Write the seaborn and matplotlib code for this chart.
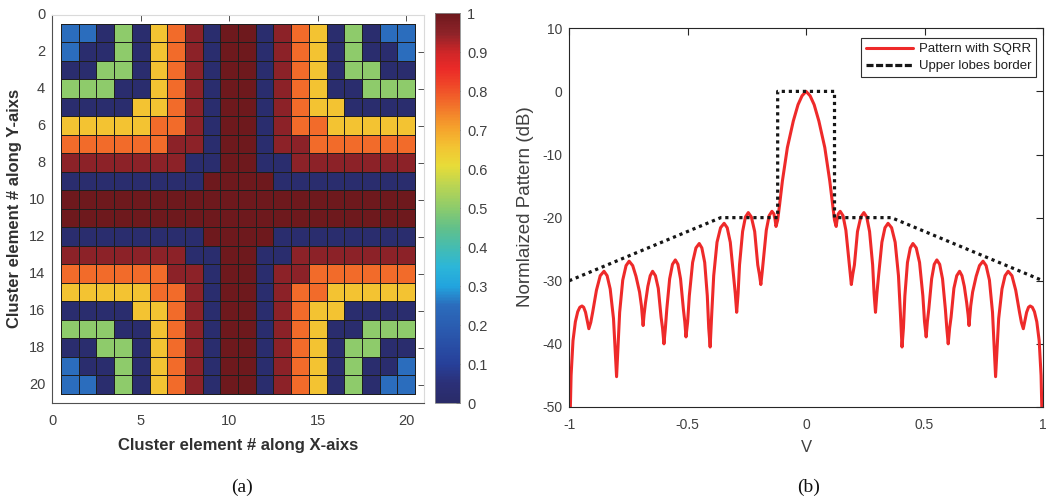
import numpy as np
import pandas as pd
import matplotlib
matplotlib.use("Agg")
import matplotlib.pyplot as plt
from matplotlib.colors import LinearSegmentedColormap
from matplotlib.lines import Line2D
import seaborn as sns

sns.set_style("white")
plt.rcParams['font.family'] = ['Liberation Sans', 'DejaVu Sans']
plt.rcParams['axes.unicode_minus'] = False

# ---------------- (a) cluster amplitude map ----------------
level_codes = ['N', 'B', 'G', 'Y', 'O', 'R', 'D']
level_values = [0.02, 0.25, 0.50, 0.66, 0.77, 0.95, 1.00]

cluster_rows = [
    "BBNGNYORNDDNROYNGNBB",
    "BNNGNYORNDDNROYNGNNB",
    "NNGGNYORNDDNROYNGGNN",
    "GGGNNYORNDDNROYNNGGG",
    "NNNNYYORNDDNROYYNNNN",
    "YYYYYOORNDDNROOYYYYY",
    "OOOOOORRNDDNRROOOOOO",
    "RRRRRRRNNDDNNRRRRRRR",
    "NNNNNNNNDDDDNNNNNNNN",
    "DDDDDDDDDDDDDDDDDDDD",
    "DDDDDDDDDDDDDDDDDDDD",
    "NNNNNNNNDDDDNNNNNNNN",
    "RRRRRRRNNDDNNRRRRRRR",
    "OOOOOORRNDDNRROOOOOO",
    "YYYYYOORNDDNROOYYYYY",
    "NNNNYYORNDDNROYYNNNN",
    "GGGNNYORNDDNROYNNGGG",
    "NNGGNYORNDDNROYNGGNN",
    "BNNGNYORNDDNROYNGNNB",
    "BBNGNYORNDDNROYNGNBB",
]

x_tick_values = [0, 5, 10, 15, 20]
y_tick_values = [0, 2, 4, 6, 8, 10, 12, 14, 16, 18, 20]
cbar_tick_values = [0, 0.1, 0.2, 0.3, 0.4, 0.5, 0.6, 0.7, 0.8, 0.9, 1.0]
cbar_tick_labels = ['0', '0.1', '0.2', '0.3', '0.4', '0.5', '0.6', '0.7', '0.8', '0.9', '1']

cmap_positions = [0.00, 0.05, 0.10, 0.18, 0.25, 0.30, 0.35, 0.40, 0.45, 0.50,
                  0.56, 0.61, 0.66, 0.71, 0.77, 0.82, 0.86, 0.90, 0.95, 1.00]
cmap_colors = ['#2a2b68', '#2b3078', '#27409a', '#2a58ad', '#2b6cbc', '#22a4de',
               '#2cb6d8', '#45bcb0', '#62c08a', '#8ccb6c', '#bcd552', '#e8dc38',
               '#f3c232', '#f5a02c', '#f26d2a', '#ef4428', '#ea2a28', '#d02628',
               '#8e2329', '#6e191d']

# ---------------- (b) normalized pattern ----------------
pattern_v = [
    -1.000, -0.992, -0.984, -0.974, -0.964, -0.955, -0.946, -0.939, -0.931, -0.924,
    -0.917, -0.909, -0.901, -0.885, -0.869, -0.853, -0.840, -0.827, -0.813, -0.806,
    -0.800, -0.794, -0.787, -0.774, -0.760, -0.747, -0.732, -0.718, -0.703, -0.695,
    -0.688, -0.684, -0.678, -0.668, -0.658, -0.648, -0.636, -0.624, -0.612, -0.606,
    -0.600, -0.594, -0.588, -0.576, -0.564, -0.552, -0.541, -0.530, -0.518, -0.512,
    -0.507, -0.500, -0.493, -0.479, -0.465, -0.451, -0.440, -0.428, -0.417, -0.411,
    -0.405, -0.398, -0.390, -0.376, -0.361, -0.346, -0.333, -0.320, -0.306, -0.299,
    -0.293, -0.287, -0.281, -0.268, -0.256, -0.244, -0.231, -0.217, -0.204, -0.197,
    -0.191, -0.185, -0.178, -0.168, -0.156, -0.144, -0.136, -0.131, -0.127, -0.120,
    -0.112, -0.100, -0.079, -0.054, -0.034, -0.017,
    0.000,
    0.017, 0.034, 0.054, 0.079, 0.100, 0.112,
    0.120, 0.127, 0.131, 0.136, 0.144, 0.156, 0.168, 0.178, 0.185, 0.191,
    0.197, 0.204, 0.217, 0.231, 0.244, 0.256, 0.268, 0.281, 0.287, 0.293,
    0.299, 0.306, 0.320, 0.333, 0.346, 0.361, 0.376, 0.390, 0.398, 0.405,
    0.411, 0.417, 0.428, 0.440, 0.451, 0.465, 0.479, 0.493, 0.500, 0.507,
    0.512, 0.518, 0.530, 0.541, 0.552, 0.564, 0.576, 0.588, 0.594, 0.600,
    0.606, 0.612, 0.624, 0.636, 0.648, 0.658, 0.668, 0.678, 0.684, 0.688,
    0.695, 0.703, 0.718, 0.732, 0.747, 0.760, 0.774, 0.787, 0.794, 0.800,
    0.806, 0.813, 0.827, 0.840, 0.853, 0.869, 0.885, 0.901, 0.909, 0.917,
    0.924, 0.931, 0.939, 0.946, 0.955, 0.964, 0.974, 0.984, 0.992, 1.000,
]
pattern_db = [
    -58.0, -45.0, -39.5, -36.5, -34.9, -34.2, -34.0, -34.2, -35.0, -36.3,
    -37.6, -36.6, -35.0, -31.5, -29.2, -28.5, -29.2, -31.3, -36.0, -41.0,
    -45.2, -40.5, -35.0, -29.9, -27.6, -26.9, -27.6, -29.3, -31.8, -34.0,
    -37.1, -35.4, -33.5, -30.9, -29.2, -28.5, -29.2, -31.2, -35.8, -37.5,
    -40.0, -37.5, -34.5, -29.7, -27.4, -26.7, -27.4, -29.7, -34.5, -36.5,
    -38.9, -36.5, -32.4, -27.1, -24.8, -24.1, -24.8, -27.1, -32.4, -37.5,
    -40.5, -35.0, -29.2, -23.9, -21.6, -20.9, -21.6, -23.9, -29.2, -32.0,
    -35.0, -32.0, -27.5, -22.2, -19.9, -19.2, -19.9, -22.2, -27.5, -29.0,
    -30.6, -28.5, -25.8, -22.0, -19.7, -19.0, -19.4, -20.3, -21.4, -20.4,
    -18.0, -14.2, -8.9, -4.7, -2.1, -0.7,
    0.0,
    -0.7, -2.1, -4.7, -8.9, -14.2, -18.0,
    -20.4, -21.4, -20.3, -19.4, -19.0, -19.7, -22.0, -25.8, -28.5, -30.6,
    -29.0, -27.5, -22.2, -19.9, -19.2, -19.9, -22.2, -27.5, -32.0, -35.0,
    -32.0, -29.2, -23.9, -21.6, -20.9, -21.6, -23.9, -29.2, -35.0, -40.5,
    -37.5, -32.4, -27.1, -24.8, -24.1, -24.8, -27.1, -32.4, -36.5, -38.9,
    -36.5, -34.5, -29.7, -27.4, -26.7, -27.4, -29.7, -34.5, -37.5, -40.0,
    -37.5, -35.8, -31.2, -29.2, -28.5, -29.2, -30.9, -33.5, -35.4, -37.1,
    -34.0, -31.8, -29.3, -27.6, -26.9, -27.6, -29.9, -35.0, -40.5, -45.2,
    -41.0, -36.0, -31.3, -29.2, -28.5, -29.2, -31.5, -35.0, -36.6, -37.6,
    -36.3, -35.0, -34.2, -34.0, -34.2, -34.9, -36.5, -39.5, -45.0, -58.0,
]

border_v = [-1.0, -0.36, -0.12, -0.12, 0.12, 0.12, 0.36, 1.0]
border_db = [-30, -20, -20, 0, 0, -20, -20, -30]

pattern_ticks_x = [-1, -0.5, 0, 0.5, 1]
pattern_tick_labels_x = ['-1', '-0.5', '0', '0.5', '1']
pattern_ticks_y = [-50, -40, -30, -20, -10, 0, 10]

TEXT = '#404040'
RED = '#ee2a2a'

fig = plt.figure(figsize=(10.5, 5.04), dpi=100)
ax1 = fig.add_axes([0.0497, 0.2004, 0.3541, 0.7704])
cax = fig.add_axes([0.4143, 0.1998, 0.0238, 0.7738])
ax2 = fig.add_axes([0.5421, 0.1925, 0.4512, 0.7514])

# --- heat map of element weights ---
code_to_value = dict(zip(level_codes, level_values))
grid = pd.DataFrame([[code_to_value[c] for c in row] for row in cluster_rows],
                    index=range(1, 21), columns=range(1, 21))
cmap = LinearSegmentedColormap.from_list('cluster', list(zip(cmap_positions, cmap_colors)))

sns.heatmap(grid, ax=ax1, cmap=cmap, vmin=0, vmax=1, cbar_ax=cax,
            linewidths=0.6, linecolor='#1e1e1e')

ax1.set_xlim(-0.5, 20.5)
ax1.set_ylim(20.5, -0.5)
ax1.set_xticks([v - 0.5 for v in x_tick_values])
ax1.set_xticklabels([str(v) for v in x_tick_values], rotation=0)
ax1.set_yticks([v - 0.5 for v in y_tick_values])
ax1.set_yticklabels([str(v) for v in y_tick_values], rotation=0)
for side, sp in ax1.spines.items():
    sp.set_visible(True)
    sp.set_linewidth(0.8)
    sp.set_color('#505050' if side in ('left', 'bottom') else '#dadada')
ax1.tick_params(axis='both', direction='in', length=4, width=0.7, color='#505050',
                labelsize=10.5, labelcolor=TEXT, top=True, right=True)
ax1.tick_params(axis='x', pad=8)
ax1.tick_params(axis='y', pad=5)
for t in ax1.xaxis.get_major_ticks() + ax1.yaxis.get_major_ticks():
    t.tick2line.set_color('#dadada')
ax1.set_xlabel('Cluster element # along X-aixs', fontsize=12, fontweight='bold',
               color='#303030', labelpad=7)
ax1.set_ylabel('Cluster element # along Y-aixs', fontsize=12, fontweight='bold',
               color='#303030', labelpad=5)

cbar = ax1.collections[0].colorbar
cbar.set_ticks(cbar_tick_values)
cbar.set_ticklabels(cbar_tick_labels)
cbar.ax.tick_params(direction='in', length=3, width=0.7, color='#404040',
                    labelsize=10.5, labelcolor=TEXT, pad=5)
cbar.outline.set_edgecolor('#8a8a8a')
cbar.outline.set_linewidth(0.6)

# --- pattern cut with the side-lobe mask ---
sns.lineplot(x=pattern_v, y=pattern_db, ax=ax2, color=RED, lw=2.2,
             sort=False, estimator=None)
sns.lineplot(x=border_v, y=border_db, ax=ax2, color='#161616', lw=2.3,
             linestyle=(0, (1, 1.2)), sort=False, estimator=None)

ax2.set_xlim(-1, 1)
ax2.set_ylim(-50, 10)
ax2.set_xticks(pattern_ticks_x)
ax2.set_xticklabels(pattern_tick_labels_x)
ax2.set_yticks(pattern_ticks_y)
ax2.set_yticklabels([str(v) for v in pattern_ticks_y])
for sp in ax2.spines.values():
    sp.set_visible(True)
    sp.set_linewidth(0.8)
    sp.set_color('#262626')
ax2.tick_params(axis='both', direction='in', length=5, width=0.8, color='#262626',
                labelsize=10, labelcolor=TEXT, top=True, right=True)
ax2.tick_params(axis='x', pad=8)
ax2.tick_params(axis='y', pad=5)
ax2.set_xlabel('V', fontsize=12, color=TEXT, labelpad=6)
ax2.set_ylabel('Normlaized Pattern (dB)', fontsize=13.5, color=TEXT, labelpad=4)
ax2.yaxis.set_label_coords(-0.075, 0.53)

handles = [Line2D([], [], color=RED, lw=2.2),
           Line2D([], [], color='#161616', lw=2.3, linestyle=(0, (2.2, 0.8)))]
leg = ax2.legend(handles, ['Pattern with SQRR', 'Upper lobes border'],
                 loc='upper right', bbox_to_anchor=(0.985, 0.973), fontsize=9.5,
                 frameon=True, fancybox=False, framealpha=1, edgecolor='#303030',
                 handlelength=3.6, handletextpad=0.4, labelspacing=0.35,
                 borderpad=0.35, borderaxespad=0)
leg.get_frame().set_linewidth(0.8)
for txt in leg.get_texts():
    txt.set_color('#202020')

# --- panel captions ---
fig.text(0.2305, 1 - 487 / 504, '(a)', family=['Liberation Serif', 'DejaVu Serif'],
         fontsize=14, ha='center', va='center', color='#111111')
fig.text(0.7705, 1 - 487 / 504, '(b)', family=['Liberation Serif', 'DejaVu Serif'],
         fontsize=14, ha='center', va='center', color='#111111')

fig.savefig('out.png', dpi=100)
